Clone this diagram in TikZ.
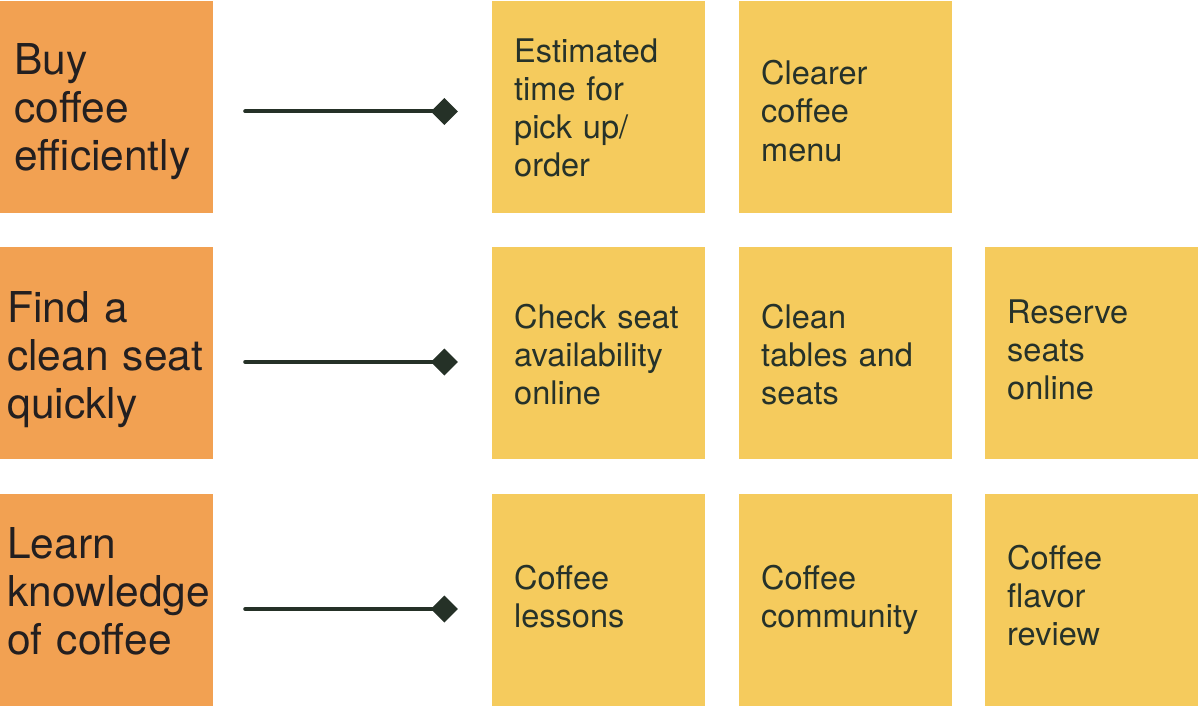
\documentclass[tikz,border=0pt]{standalone}
\usepackage{fontspec}
\setmainfont{TeX Gyre Heros}
\usetikzlibrary{arrows.meta}

\definecolor{goalorange}{HTML}{F2A152}
\definecolor{ideayellow}{HTML}{F5CB5D}
\definecolor{goaltext}{HTML}{231F20}
\definecolor{ideatext}{HTML}{26322A}
\definecolor{linkgreen}{HTML}{253127}

\begin{document}
\begin{tikzpicture}[x=1pt,y=-1pt,
  goal node/.style={rectangle,fill=goalorange,minimum width=213pt,minimum height=212pt,inner sep=0pt},
  idea node/.style={rectangle,fill=ideayellow,minimum width=213pt,minimum height=212pt,inner sep=0pt},
  goal text/.style={anchor=base west,inner sep=0pt,text width=200pt,align=left,
    text=goaltext,font=\fontsize{42.5}{48}\selectfont},
  idea text/.style={anchor=base west,inner sep=0pt,text width=185pt,align=left,
    text=ideatext,font=\fontsize{32.5}{38}\selectfont},
  link/.style={draw=linkgreen,line width=4pt,line cap=round,
    -{Diamond[length=27pt,width=27pt]},shorten <=32pt,shorten >=34pt}]

  \useasboundingbox (0,0) rectangle (1198,706);

  % goals
  \node[goal node] (buy) at (106.5,107) {};
  \node[goal node] (seat) at (106.5,353) {};
  \node[goal node] (learn) at (106.5,599.5) {};

  % ideas
  \node[idea node] (eta) at (598.5,107) {};
  \node[idea node] (menu) at (845,107) {};
  \node[idea node] (check) at (598.5,353) {};
  \node[idea node] (clean) at (845,353) {};
  \node[idea node] (reserve) at (1091.5,353) {};
  \node[idea node] (lessons) at (598.5,599.5) {};
  \node[idea node] (community) at (845,599.5) {};
  \node[idea node] (review) at (1091.5,599.5) {};

  % texts
  \node[goal text] (buy-txt) at (14,75) {Buy\\coffee\\efficiently};
  \node[goal text] (seat-txt) at (7,322) {Find a\\clean seat\\quickly};
  \node[goal text] (learn-txt) at (7,558) {Learn\\knowledge\\of coffee};

  \node[idea text] (eta-txt) at (514,63) {Estimated\\time for\\pick up/\\order};
  \node[idea text] (menu-txt) at (761,85) {Clearer\\coffee\\menu};
  \node[idea text] (check-txt) at (514,328) {Check seat\\availability\\online};
  \node[idea text] (clean-txt) at (761,328) {Clean\\tables and\\seats};
  \node[idea text] (reserve-txt) at (1007,323) {Reserve\\seats\\online};
  \node[idea text] (lessons-txt) at (514,589) {Coffee\\lessons};
  \node[idea text] (community-txt) at (761,589) {Coffee\\community};
  \node[idea text] (review-txt) at (1007,569) {Coffee\\flavor\\review};

  \path
    ([yshift=-4.5pt]buy.east) edge[link] ([yshift=-4.5pt]eta.west)
    ([yshift=-9pt]seat.east) edge[link] ([yshift=-9pt]check.west)
    ([yshift=-9.5pt]learn.east) edge[link] ([yshift=-9.5pt]lessons.west)
    ;
\end{tikzpicture}
\end{document}
